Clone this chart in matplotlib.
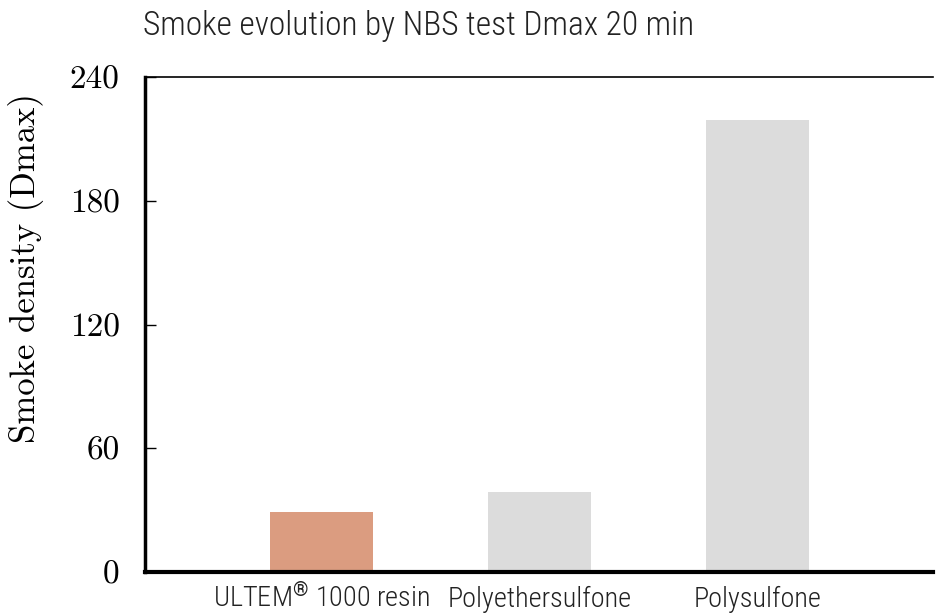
import matplotlib
matplotlib.use('Agg')
import matplotlib.pyplot as plt
from matplotlib import font_manager

materials = ['ULTEM$^{\\mathrm{®}}$ 1000 resin', 'Polyethersulfone', 'Polysulfone']
dmax = [29, 39, 219]
colors = ['#DB9C80', '#DCDCDC', '#DCDCDC']
yticks = [0, 60, 120, 180, 240]

names = {f.name for f in font_manager.fontManager.ttflist}
sans = 'DejaVu Sans'
for cand in ['Roboto Condensed', 'Open Sans Condensed', 'Noto Sans Condensed',
             'Liberation Sans Narrow', 'DejaVu Sans Condensed', 'Roboto']:
    if cand in names:
        sans = cand
        break
serif = 'cmr10'

plt.rcParams['mathtext.fontset'] = 'custom'
plt.rcParams['mathtext.rm'] = sans
plt.rcParams['mathtext.it'] = sans + ':italic'
plt.rcParams['mathtext.bf'] = sans + ':bold'

fig = plt.figure(figsize=(9.45, 6.16), dpi=100)
ax = fig.add_axes([0.153, 0.0714, 0.834, 0.8036])

ax.bar(range(len(materials)), dmax, width=0.472, color=colors, zorder=2)

ax.set_xlim(-0.812, 2.805)
ax.set_ylim(0, 240)
ax.set_yticks(yticks)
ax.set_yticklabels([str(v) for v in yticks], fontfamily=serif, fontsize=24)
ax.set_xticks(range(len(materials)))
ax.set_xticklabels(materials, fontfamily=sans, fontsize=20.3, color='#222222',
                   fontweight='light')
# align the labels on their baselines so the superscript does not push one down
for lbl in ax.get_xticklabels():
    lbl.set_verticalalignment('baseline')
ax.tick_params(axis='x', length=0, pad=25.5)
ax.tick_params(axis='y', direction='in', length=8, width=1, pad=18)

ax.spines['right'].set_visible(False)
ax.spines['top'].set_linewidth(1.2)
ax.spines['left'].set_linewidth(2.5)
ax.spines['bottom'].set_linewidth(3)

ax.set_ylabel('Smoke density (Dmax)', fontfamily=serif, fontsize=25)
ax.yaxis.set_label_coords(-0.128, 0.614)
fig.text(0.151, 0.943, 'Smoke evolution by NBS test Dmax 20 min', fontfamily=sans,
         fontsize=24, color='#222222', ha='left', va='baseline', fontweight='light')

fig.savefig('out.png', dpi=100)
